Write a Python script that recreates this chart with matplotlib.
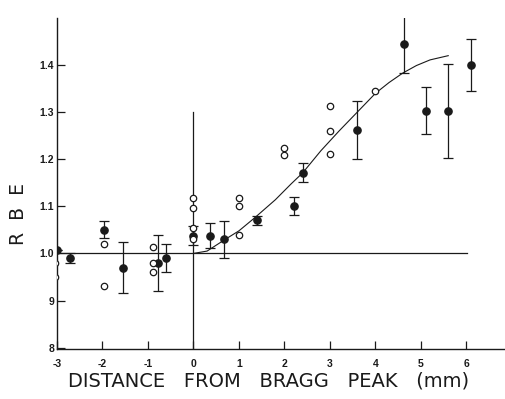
import matplotlib
matplotlib.use("Agg")
import matplotlib.pyplot as plt

# Filled points with error bars (distance mm, RBE, error)
filled_x = [-3.0, -2.72, -1.96, -1.56, -0.79, -0.60, 0.0, 0.37, 0.68, 1.40, 2.22, 2.40, 3.60, 4.62, 5.12, 5.60, 6.11]
filled_y = [1.008, 0.99, 1.05, 0.97, 0.98, 0.99, 1.038, 1.038, 1.03, 1.07, 1.10, 1.171, 1.262, 1.444, 1.303, 1.303, 1.40]
filled_err = [0.0, 0.01, 0.018, 0.055, 0.06, 0.03, 0.02, 0.027, 0.039, 0.01, 0.019, 0.02, 0.062, 0.06, 0.05, 0.10, 0.055]

# Open circles (individual measurements)
open_x = [-3.05, -3.05, -1.96, -1.96, -0.88, -0.88, -0.88, 0.0, 0.0, 0.0, 0.0, 0.99, 0.99, 0.99, 2.0, 2.0, 3.0, 3.0, 3.0, 4.0]
open_y = [0.98, 0.95, 1.021, 0.93, 1.013, 0.98, 0.96, 1.118, 1.097, 1.053, 1.03, 1.118, 1.10, 1.04, 1.223, 1.21, 1.313, 1.26, 1.212, 1.345]

# Fitted curve
curve_x = [0, 0.3, 0.7, 1.0, 1.35, 1.8, 2.15, 2.4, 2.8, 3.2, 3.6, 4.0, 4.3, 4.6, 4.9, 5.2, 5.6]
curve_y = [1.0, 1.005, 1.03, 1.048, 1.076, 1.114, 1.148, 1.171, 1.218, 1.26, 1.30, 1.34, 1.363, 1.383, 1.399, 1.411, 1.42]

x_ticks = [-3, -2, -1, 0, 1, 2, 3, 4, 5, 6]
y_ticks = [0.8, 0.9, 1.0, 1.1, 1.2, 1.3, 1.4]
y_ticklabels = ["8", "9", "1.0", "1.1", "1.2", "1.3", "1.4"]

plt.rcParams['font.family'] = ['Liberation Sans', 'DejaVu Sans']
ink = "#1a1a1a"

fig = plt.figure(figsize=(5.06, 3.99), dpi=100)
ax = fig.add_axes([57/506, 50/399, 449/506, 331/399])
ax.set_xlim(-3.0, 6.87)
ax.set_ylim(0.797, 1.5)

for s in ["top", "right"]:
    ax.spines[s].set_visible(False)
for s in ["left", "bottom"]:
    ax.spines[s].set_color(ink)
    ax.spines[s].set_linewidth(1.0)

# reference lines
ax.plot([-3.0, 6.02], [1.0, 1.0], color=ink, lw=0.9, zorder=1)
ax.plot([0, 0], [0.797, 1.3], color=ink, lw=0.9, zorder=1)

ax.plot(curve_x, curve_y, color=ink, lw=0.8, zorder=2)

ax.errorbar(filled_x, filled_y, yerr=filled_err, fmt='o', color=ink, ms=5.2,
            ecolor=ink, elinewidth=0.9, capsize=3.6, capthick=0.9, zorder=3)
ax.plot(open_x, open_y, 'o', ms=4.6, mfc='white', mec=ink, mew=0.9, ls='none', zorder=4)

ax.set_xticks(x_ticks)
ax.set_xticklabels([str(t) for t in x_ticks])
ax.set_yticks(y_ticks)
ax.set_yticklabels(y_ticklabels)
ax.tick_params(axis='both', direction='in', length=6, width=0.9, colors=ink,
               labelsize=7.5)
ax.tick_params(axis='x', pad=7)
ax.tick_params(axis='y', pad=2)
for lab in ax.get_xticklabels() + ax.get_yticklabels():
    lab.set_fontweight('bold')

fig.text(269/506, 1 - 381/399, "DISTANCE   FROM   BRAGG   PEAK   (mm)", ha='center', va='center',
         fontsize=14, color=ink, family='DejaVu Sans')
fig.text(19/506, 1 - 214/399, "R  B  E", ha='center', va='center', rotation=90,
         fontsize=13.5, color=ink, family='DejaVu Sans')

fig.savefig("out.png", dpi=100)
